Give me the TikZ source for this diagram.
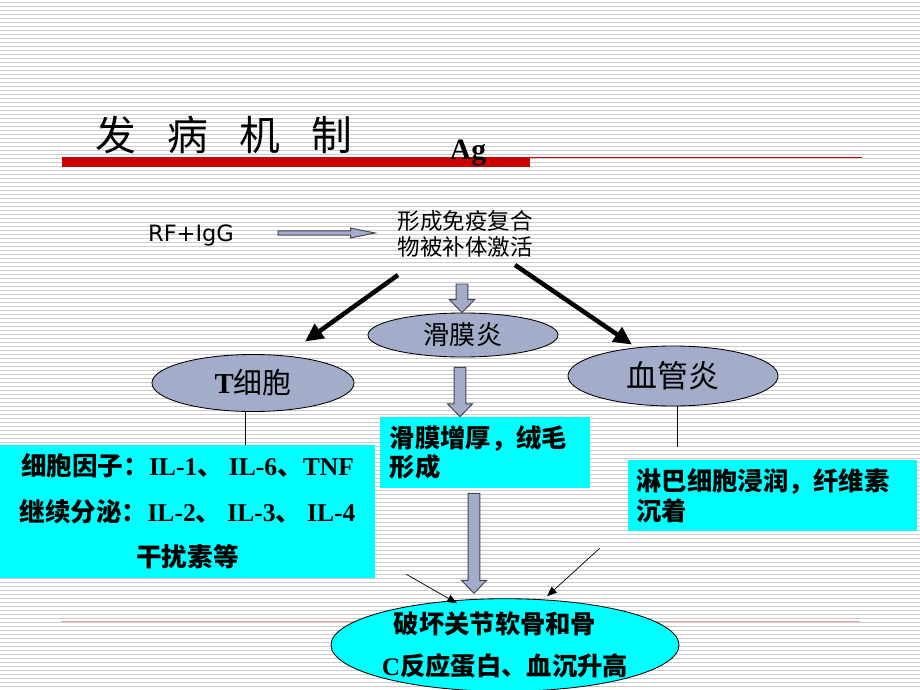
\documentclass[tikz,border=0pt]{standalone}
\usepackage{fontspec}
\setmainfont{Noto Sans CJK SC}
\newfontfamily\tnr{Liberation Serif}
\newfontfamily\verd{DejaVu Sans}
\usetikzlibrary{arrows.meta,calc,shapes.geometric}

\definecolor{slateblue}{RGB}{163,172,200}
\definecolor{boxcyan}{RGB}{0,255,255}
\definecolor{titlered}{RGB}{204,0,0}
\definecolor{arrowgray}{RGB}{70,70,80}

% latin words inside the chinese text
\newcommand{\lat}[1]{{\tnr\bfseries #1}}

% fat grey arrows, pointing down or to the right
\newcommand{\fatdown}[2]{%
  \draw[fatarrow] let \p1=#1, \p2=#2 in
    (\x1-4.2pt,\y1) -- (\x1+4.2pt,\y1) -- (\x1+4.2pt,\y2+9.2pt)
    -- (\x1+8.9pt,\y2+9.2pt) -- (\x1,\y2) -- (\x1-8.9pt,\y2+9.2pt)
    -- (\x1-4.2pt,\y2+9.2pt) -- cycle;}
\newcommand{\fatright}[2]{%
  \draw[fatarrow] let \p1=#1, \p2=#2 in
    (\x1,\y1-1.5pt) -- (\x2-17.5pt,\y1-1.5pt) -- (\x2-17.5pt,\y1-3.5pt)
    -- (\x2,\y1) -- (\x2-17.5pt,\y1+3.5pt) -- (\x2-17.5pt,\y1+1.5pt)
    -- (\x1,\y1+1.5pt) -- cycle;}

\begin{document}
\begin{tikzpicture}[x=0.025cm, y=-0.025cm,  % one unit = one pixel, y runs down
    bgline/.style={black!20, line width=0.5pt},
    oval/.style={ellipse, draw=black, line width=0.6pt, fill=slateblue, inner sep=0pt},
    cyanbox/.style={fill=boxcyan, inner sep=0pt},
    fatarrow/.style={draw=arrowgray, line width=0.7pt, fill=slateblue},
    bigarrow/.style={line width=3.2pt, -{Triangle[length=13pt,width=12pt]}},
    smallarrow/.style={line width=0.5pt, -{Triangle[length=7pt,width=5.5pt]}},
    thinline/.style={line width=0.6pt}]

    % page with ruled background
    \fill[white] (0,0) rectangle (920,690);
    \useasboundingbox (0,0) rectangle (920,690);
    \foreach \yy in {2,6,...,690}
        \draw[bgline] (0,\yy) -- (920,\yy);
    \draw[titlered!35, line width=0.6pt] (61,621) -- (860,621);

    % title and red bar
    \node[font=\fontsize{29}{30}\selectfont] (title) at (224,135)
        {发\hspace{0.78cm}病\hspace{0.78cm}机\hspace{0.78cm}制};
    \fill[titlered] (62,157) rectangle (530,167);
    \draw[titlered, line width=0.9pt] (530,157.5) -- (862,157.5);
    \node[font=\tnr\bfseries\fontsize{21}{21}\selectfont] (ag) at (468,153) {Ag};

    % top row
    \node[font=\verd\fontsize{16}{16}\selectfont, inner sep=0pt] (rf) at (191,235) {RF+IgG};
    \node[font=\fontsize{16}{18.5}\selectfont, align=center, inner sep=0pt] (imm) at (465,234)
        {形成免疫复合\\物被补体激活};

    % ovals
    \node[oval, minimum width=4.75cm, minimum height=1.1cm, font=\fontsize{18.5}{20}\selectfont]
        (syn) at (463,335) {滑膜炎};
    \node[oval, minimum width=5.05cm, minimum height=1.425cm, font=\fontsize{20.5}{22}\selectfont]
        (tcell) at (253,383) {\lat{T}细胞};
    \node[oval, minimum width=5.25cm, minimum height=1.5cm, font=\fontsize{22}{24}\selectfont]
        (vasc) at (673,376) {血管炎};

    % cyan boxes
    \node[cyanbox, minimum width=9.375cm, minimum height=3.325cm, align=center,
          font=\bfseries\fontsize{18.2}{32.4}\selectfont] (cyto) at (187.5,511.5)
        {细胞因子：\lat{IL-1}、 \lat{IL-6}、\lat{TNF}\\
         继续分泌：\lat{IL-2}、 \lat{IL-3}、 \lat{IL-4}\\
         干扰素等};
    \node[cyanbox, minimum width=5.25cm, minimum height=1.775cm, text width=4.75cm, align=left,
          font=\bfseries\fontsize{18}{21.3}\selectfont] (mid) at (485,452.5)
        {滑膜增厚，绒毛\\形成};
    \node[cyanbox, minimum width=7.225cm, minimum height=1.775cm, text width=6.8cm, align=left,
          font=\bfseries\fontsize{18}{21.3}\selectfont] (rbox) at (772.5,495.5)
        {淋巴细胞浸润，纤维素\\沉着};

    % result oval
    \node[oval, fill=boxcyan, minimum width=8.4cm, minimum height=2.3cm, align=center,
          font=\bfseries\fontsize{18}{29.2}\selectfont] (dmg) at (505,645)
        {破坏关节软骨和骨\hspace*{0.5cm}\\\lat{C}反应蛋白、血沉升高};

    % arrows
    \fatright{($(rf.east)+(44,-2)$)}{($(imm.west)+(-22,-1)$)};
    \draw[bigarrow] ($(imm.center)+(-67,41)$) -- ($(tcell.north)+(52,-12.5)$);
    \draw[bigarrow] ($(imm.center)+(50,31)$) -- ($(vasc.north)+(-41,-1)$);
    \fatdown{($(imm.center)+(-3,50)$)}{(syn.north)};
    \fatdown{($(syn.south)+(-3,10)$)}{(mid.north)};
    \fatdown{($(mid.south)+(-11,5)$)}{($(dmg.north)+(0,-5)$)};

    % thin links
    \coordinate (tfoot) at ($(tcell.south)+(-8,0)$);
    \draw[thinline] (tfoot) -- (tfoot |- cyto.north);
    \coordinate (vtip) at ($(rbox.north west)+(50,-13)$);
    \draw[thinline] (vtip) -- (vtip |- vasc.south);
    \coordinate (ltail) at ($(cyto.south east)+(31,-4)$);
    \draw[smallarrow] (ltail) -- ($(dmg.north)+(-48,5)$);
    \coordinate (rtail) at ($(rbox.south west)+(-28,17)$);
    \draw[smallarrow] (rtail) -- ($(dmg.north)+(42,-2)$);

\end{tikzpicture}
\end{document}
